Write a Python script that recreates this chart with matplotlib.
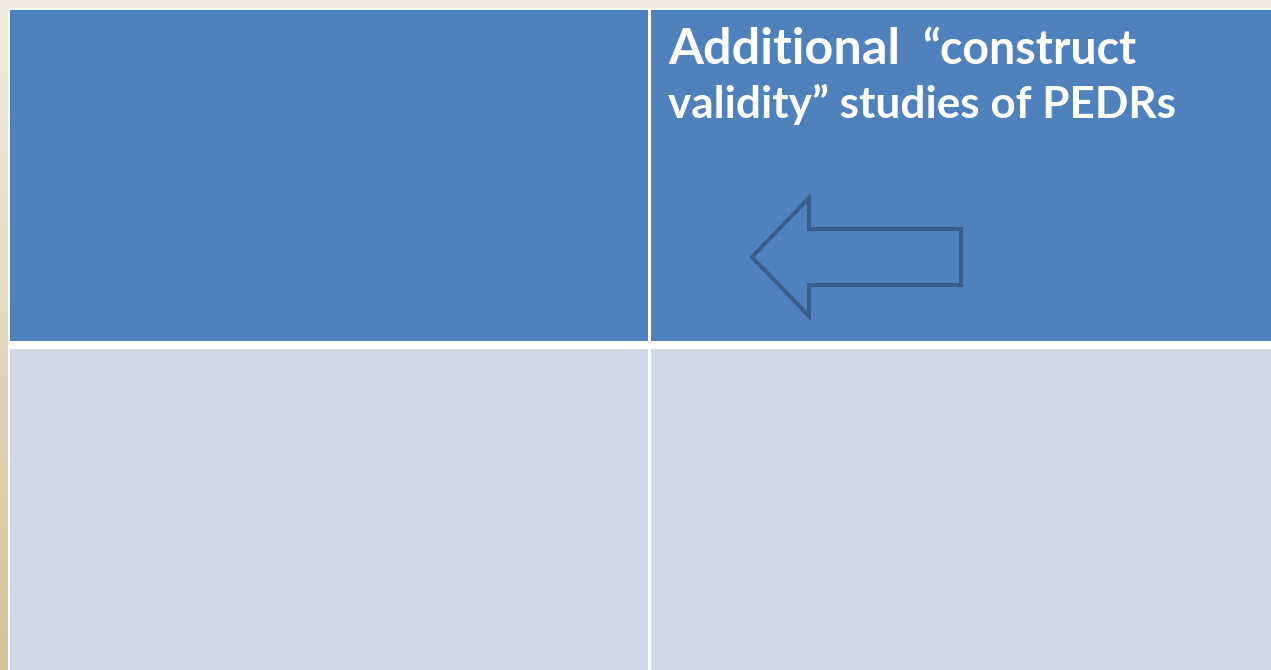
import numpy as np
import matplotlib
matplotlib.use("Agg")
import matplotlib.pyplot as plt
from matplotlib.patches import Rectangle, Polygon
from matplotlib.colors import LinearSegmentedColormap

# table content (2 x 2 slide table, only one cell has text)
header_word = "Additional"
header_rest = "\u201cconstruct"
header_line2 = "validity\u201d studies of PEDRs"
row_colors = ["#4f81bd", "#d0d8e8"]

W, H = 1271, 670
fig = plt.figure(figsize=(W / 100, H / 100), dpi=100)
ax = fig.add_axes([0, 0, 1, 1])
ax.set_xlim(0, W)
ax.set_ylim(H, 0)
ax.axis("off")

# beige slide background
bg = LinearSegmentedColormap.from_list("bg", ["#f1ebdd", "#e3d7bd", "#d3c29b"])
grad = np.linspace(0, 1, 256).reshape(-1, 1)
ax.imshow(grad, cmap=bg, extent=[0, W, H, 0], aspect="auto", zorder=0)

# white table frame
ax.add_patch(Rectangle((8, 8), W, H, facecolor="white", edgecolor="none", zorder=1))

col_x = [(10, 647.5), (650.5, W + 5)]
row_y = [(10, 341), (349, H + 5)]
for r, (y0, y1) in enumerate(row_y):
    for c, (x0, x1) in enumerate(col_x):
        ax.add_patch(Rectangle((x0, y0), x1 - x0, y1 - y0,
                               facecolor=row_colors[r], edgecolor="none", zorder=2))

# outlined arrow pointing left
arrow = [(752, 257), (809, 198), (809, 229), (961, 229), (961, 285),
         (809, 285), (809, 316)]
ax.add_patch(Polygon(arrow, closed=True, facecolor="none", edgecolor="#385d8a",
                     linewidth=2.9, joinstyle="miter", zorder=3))

font = ["Lato", "DejaVu Sans"]
ax.text(668, 64, header_word, color="white", fontsize=36.3, fontweight="bold",
        family=font, va="baseline", ha="left", zorder=4)
ax.text(922, 64, header_rest, color="white", fontsize=33.5, fontweight="bold",
        family=font, va="baseline", ha="left", zorder=4)
ax.text(668, 118, header_line2, color="white", fontsize=31.8, fontweight="bold",
        family=font, va="baseline", ha="left", zorder=4)

fig.savefig("out.png", dpi=100)
